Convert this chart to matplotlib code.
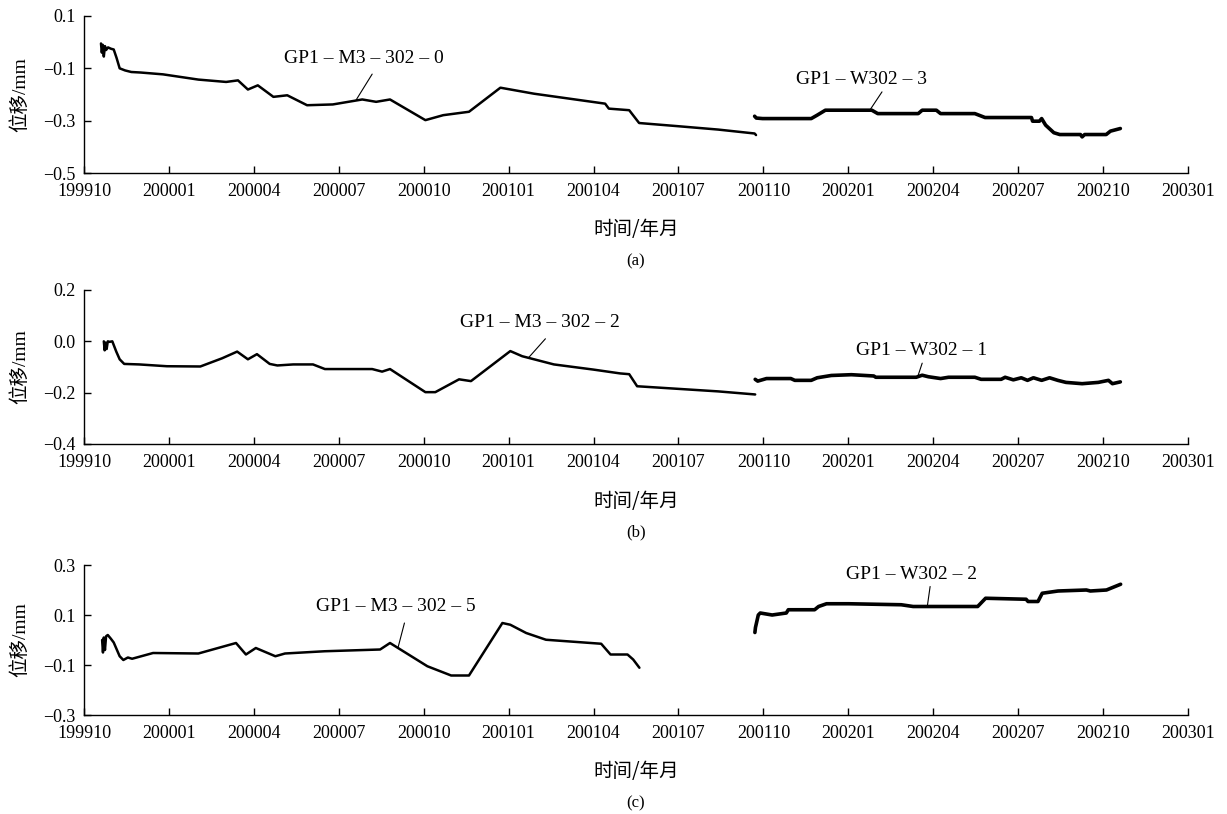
import numpy as np
import matplotlib
matplotlib.use("Agg")
import matplotlib.pyplot as plt
from matplotlib.ticker import FuncFormatter

SERIF = ['Liberation Serif', 'Noto Sans CJK SC']
CJK = ['Noto Sans CJK SC', 'DejaVu Sans']
plt.rcParams['font.family'] = SERIF
plt.rcParams['axes.unicode_minus'] = True

# x axis: year-month labels, one tick per quarter
tick_labels = ['199910', '200001', '200004', '200007', '200010', '200101', '200104',
               '200107', '200110', '200201', '200204', '200207', '200210', '200301']


def month_index(label):
    """Months elapsed since 1999-10."""
    return (int(label[:4]) - 1999) * 12 + int(label[4:]) - 10


tick_pos = [month_index(s) for s in tick_labels]

# ---- (a) ----
a1_name = 'GP1 – M3 – 302 – 0'
a1_t = [0.60, 0.63, 0.66, 0.70, 0.74, 0.78, 0.85, 0.95, 1.05, 1.15, 1.26, 1.45, 1.67, 2.0,
        2.79, 4.04, 5.02, 5.44, 5.79, 6.14, 6.69, 7.18, 7.88, 8.79, 9.83, 10.32, 10.81,
        12.06, 12.69, 13.6, 14.71, 15.9, 18.41, 18.54, 19.26, 19.61, 20.97, 22.4, 23.69, 23.74]
a1_v = [-0.005, -0.04, -0.01, -0.055, -0.015, -0.03, -0.02, -0.025, -0.028, -0.06, -0.10,
        -0.108, -0.114, -0.116, -0.123, -0.143, -0.152, -0.146, -0.181, -0.165, -0.209,
        -0.203, -0.241, -0.238, -0.219, -0.228, -0.219, -0.298, -0.279, -0.266, -0.174,
        -0.197, -0.235, -0.254, -0.26, -0.309, -0.321, -0.334, -0.349, -0.355]
a2_name = 'GP1 – W302 – 3'
a2_t = [23.69, 23.75, 23.97, 25.69, 25.9, 26.19, 27.83, 28.04, 29.47, 29.61, 30.11, 30.26,
        31.47, 31.83, 33.47, 33.51, 33.75, 33.83, 33.97, 34.26, 34.47, 35.2, 35.26, 35.35,
        36.11, 36.26, 36.61]
a2_v = [-0.283, -0.29, -0.292, -0.292, -0.279, -0.26, -0.26, -0.273, -0.273, -0.26, -0.26,
        -0.273, -0.273, -0.288, -0.288, -0.302, -0.302, -0.292, -0.317, -0.346, -0.353,
        -0.353, -0.362, -0.353, -0.353, -0.34, -0.33]

# ---- (b) ----
b1_name = 'GP1 – M3 – 302 – 2'
b1_t = [0.70, 0.73, 0.76, 0.80, 0.84, 0.90, 1.0, 1.14, 1.26, 1.42, 1.95, 2.93, 4.11, 4.88,
        5.41, 5.79, 6.11, 6.56, 6.83, 7.39, 8.09, 8.51, 10.18, 10.53, 10.81, 12.06, 12.41,
        13.25, 13.67, 15.06, 15.48, 16.6, 17.99, 18.94, 19.26, 19.54, 20.97, 22.4, 23.71]
b1_v = [0.0, -0.035, -0.005, -0.03, 0.0, -0.002, 0.0, -0.04, -0.07, -0.088, -0.09,
        -0.097, -0.098, -0.066, -0.04, -0.07, -0.05, -0.088, -0.094, -0.09, -0.09,
        -0.108, -0.108, -0.118, -0.108, -0.198, -0.198, -0.148, -0.155, -0.038, -0.058,
        -0.09, -0.11, -0.125, -0.128, -0.175, -0.185, -0.195, -0.207]
b2_name = 'GP1 – W302 – 1'
b2_t = [23.71, 23.8, 24.11, 24.97, 25.11, 25.69, 25.9, 26.4, 27.11, 27.9, 27.97, 29.4,
        29.61, 29.83, 30.26, 30.54, 31.47, 31.69, 32.4, 32.54, 32.83, 33.11, 33.33, 33.54,
        33.83, 34.11, 34.4, 34.69, 35.26, 35.83, 36.19, 36.33, 36.61]
b2_v = [-0.148, -0.155, -0.145, -0.145, -0.152, -0.152, -0.142, -0.133, -0.13, -0.135,
        -0.14, -0.14, -0.132, -0.138, -0.145, -0.14, -0.14, -0.148, -0.148, -0.14, -0.15,
        -0.142, -0.152, -0.142, -0.152, -0.142, -0.152, -0.16, -0.165, -0.16, -0.152,
        -0.165, -0.158]

# ---- (c) ----
c1_name = 'GP1 – M3 – 302 – 5'
c1_t = [0.64, 0.67, 0.70, 0.74, 0.78, 0.84, 0.95, 1.05, 1.26, 1.39, 1.55, 1.7, 2.44,
        4.04, 5.37, 5.72, 6.07, 6.76, 7.1, 8.5, 10.46, 10.81, 12.13, 12.97, 13.6, 14.78,
        15.06, 15.62, 16.32, 18.27, 18.6, 19.2, 19.4, 19.62]
c1_v = [0.0, -0.05, 0.01, -0.04, 0.015, 0.02, 0.005, -0.01, -0.065, -0.08, -0.07, -0.075,
        -0.052, -0.054, -0.012, -0.058, -0.032, -0.065, -0.054, -0.045, -0.038, -0.012,
        -0.105, -0.142, -0.142, 0.068, 0.061, 0.028, 0.001, -0.015, -0.058, -0.058,
        -0.078, -0.111]
c2_name = 'GP1 – W302 – 2'
c2_t = [23.70, 23.72, 23.76, 23.82, 23.89, 24.31, 24.81, 24.88, 25.81, 25.95, 26.23,
        27.01, 28.87, 29.29, 30.0, 31.57, 31.85, 33.28, 33.35, 33.7, 33.85, 34.41, 35.41,
        35.55, 36.12, 36.62]
c2_v = [0.03, 0.05, 0.07, 0.10, 0.108, 0.10, 0.108, 0.121, 0.121, 0.134, 0.145, 0.145,
        0.141, 0.134, 0.134, 0.134, 0.167, 0.163, 0.154, 0.154, 0.187, 0.196, 0.2, 0.196,
        0.2, 0.223]

panels = [
    dict(letter='(a)', ylim=(-0.5, 0.1), yticks=[0.1, -0.1, -0.3, -0.5],
         series=[(a1_t, a1_v, a1_name), (a2_t, a2_v, a2_name)],
         # (text centre, leader start month/offset, leader end month) per series
         labels=[((9.9, -0.062), (10.18, -0.122), 9.6),
                 ((27.47, -0.142), (28.19, -0.19), 27.76)]),
    dict(letter='(b)', ylim=(-0.4, 0.2), yticks=[0.2, 0.0, -0.2, -0.4],
         series=[(b1_t, b1_v, b1_name), (b2_t, b2_v, b2_name)],
         labels=[((16.1, 0.075), (16.3, 0.01), 15.7),
                 ((29.6, -0.035), (29.61, -0.085), 29.45)]),
    dict(letter='(c)', ylim=(-0.3, 0.3), yticks=[0.3, 0.1, -0.1, -0.3],
         series=[(c1_t, c1_v, c1_name), (c2_t, c2_v, c2_name)],
         labels=[((11.0, 0.135), (11.32, 0.068), 11.09),
                 ((29.22, 0.262), (29.89, 0.214), 29.79)]),
]

W, H = 1227, 814
fig = plt.figure(figsize=(W / 100, H / 100), dpi=100)

# axes boxes in pixels: (top, bottom)
boxes = [(16, 173), (290, 444), (565, 715)]
x0, x1 = 84, 1188


def fmt(v, _):
    s = f'{v:.1f}'
    if s == '-0.0':
        s = '0.0'
    return s.replace('-', '\u2212')


for p, (top, bot) in zip(panels, boxes):
    ax = fig.add_axes([x0 / W, 1 - bot / H, (x1 - x0) / W, (bot - top) / H])
    for (t, v, name), lw in zip(p['series'], (1.8, 2.6)):
        ax.plot(t, v, color='black', lw=lw, solid_joinstyle='round', solid_capstyle='round')
    for (t, v, name), (txt, lstart, lend) in zip(p['series'], p['labels']):
        ax.text(txt[0], txt[1], name, ha='center', va='center', fontsize=14,
                family=SERIF)
        yend = float(np.interp(lend, t, v))
        ax.annotate('', xy=(lend, yend), xytext=lstart,
                    arrowprops=dict(arrowstyle='-', lw=0.8, color='black',
                                    shrinkA=0, shrinkB=0))
    ax.set_xlim(tick_pos[0], tick_pos[-1])
    ax.set_ylim(*p['ylim'])
    ax.set_xticks(tick_pos)
    ax.set_xticklabels(tick_labels)
    ax.set_yticks(p['yticks'])
    ax.yaxis.set_major_formatter(FuncFormatter(fmt))
    for s in ('top', 'right'):
        ax.spines[s].set_visible(False)
    for s in ('left', 'bottom'):
        ax.spines[s].set_linewidth(1.0)
    ax.tick_params(direction='in', length=5, width=1, labelsize=13)
    ax.tick_params(axis='x', pad=7)
    ax.tick_params(axis='y', pad=6)
    ax.patch.set_alpha(0)

    yc = (top + bot) / 2
    fig.text(20 / W, 1 - yc / H, '位移/mm', rotation=90, ha='center', va='center',
             fontsize=14, family=SERIF)
    fig.text(636 / W, 1 - (bot + 57) / H, '时间/年月', ha='center', va='center',
             fontsize=14, family=CJK)
    fig.text(636 / W, 1 - (bot + 88) / H, p['letter'], ha='center', va='center',
             fontsize=12, family=SERIF)

fig.savefig('out.png', dpi=100)
